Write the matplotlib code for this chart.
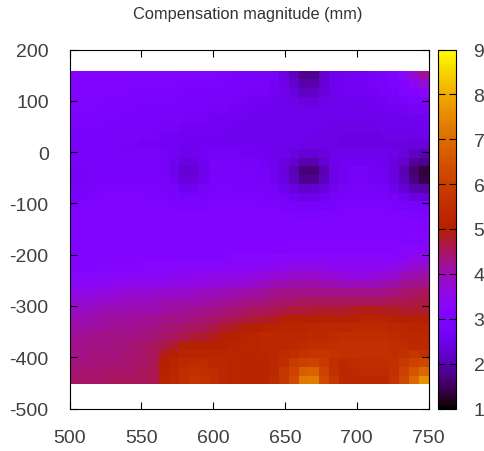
import numpy as np
import matplotlib
matplotlib.use("Agg")
from matplotlib import pyplot as plt
from matplotlib.colors import ListedColormap

plt.rcParams['font.family'] = ['Liberation Sans', 'DejaVu Sans']
plt.rcParams['axes.unicode_minus'] = False

title = "Compensation magnitude (mm)"
x_range = [500, 750]
y_range = [159, -453]
x_ticks = [500, 550, 600, 650, 700, 750]
y_ticks = [200, 100, 0, -100, -200, -300, -400, -500]
bar_ticks = [1, 2, 3, 4, 5, 6, 7, 8, 9]

# magnitude, top row first, 36 columns left to right
mag = [
 [3.1,3.1,3.1,3.05,3.0,3.0,3.0,3.0,3.0,3.0,3.0,2.95,2.95,2.95,2.95,2.9,2.85,2.85,2.8,2.8,2.7,2.4,2.1,1.75,1.75,2.2,2.5,2.6,2.65,2.65,2.7,2.75,2.95,3.3,3.8,4.2],
 [3.05,3.05,3.05,3.0,3.0,2.95,2.95,2.95,2.95,2.95,2.95,2.9,2.9,2.9,2.9,2.85,2.8,2.8,2.75,2.75,2.65,2.45,2.2,1.95,1.95,2.25,2.5,2.6,2.65,2.65,2.7,2.75,2.9,3.1,3.4,3.7],
 [3.0,3.0,3.0,2.95,2.95,2.95,2.9,2.9,2.9,2.9,2.9,2.85,2.85,2.85,2.85,2.8,2.75,2.75,2.7,2.7,2.65,2.5,2.35,2.15,2.15,2.35,2.5,2.6,2.65,2.65,2.65,2.7,2.8,2.95,3.05,3.2],
 [3.0,2.95,2.95,2.95,2.9,2.9,2.9,2.85,2.85,2.85,2.85,2.8,2.8,2.8,2.75,2.75,2.7,2.7,2.65,2.65,2.6,2.55,2.45,2.35,2.35,2.45,2.55,2.6,2.6,2.6,2.6,2.65,2.7,2.8,2.85,2.9],
 [2.95,2.95,2.95,2.9,2.9,2.85,2.85,2.85,2.85,2.8,2.8,2.75,2.75,2.75,2.7,2.7,2.65,2.65,2.6,2.6,2.6,2.55,2.55,2.5,2.5,2.55,2.55,2.55,2.55,2.55,2.55,2.6,2.6,2.65,2.7,2.7],
 [2.9,2.9,2.9,2.85,2.85,2.85,2.8,2.8,2.8,2.75,2.75,2.7,2.7,2.7,2.65,2.65,2.6,2.6,2.6,2.55,2.55,2.55,2.55,2.55,2.55,2.5,2.5,2.5,2.5,2.5,2.5,2.55,2.55,2.55,2.6,2.6],
 [2.85,2.85,2.85,2.85,2.8,2.8,2.8,2.75,2.75,2.7,2.7,2.65,2.65,2.65,2.65,2.6,2.6,2.55,2.55,2.55,2.55,2.55,2.55,2.5,2.5,2.5,2.45,2.45,2.45,2.45,2.45,2.5,2.5,2.5,2.5,2.55],
 [2.85,2.85,2.8,2.8,2.8,2.75,2.75,2.7,2.7,2.65,2.65,2.6,2.6,2.6,2.6,2.6,2.55,2.55,2.55,2.55,2.55,2.5,2.5,2.5,2.45,2.45,2.45,2.4,2.4,2.4,2.4,2.45,2.45,2.45,2.45,2.5],
 [2.8,2.8,2.8,2.75,2.75,2.7,2.7,2.65,2.65,2.65,2.65,2.6,2.6,2.6,2.6,2.6,2.6,2.6,2.6,2.55,2.55,2.5,2.5,2.45,2.45,2.45,2.45,2.4,2.4,2.4,2.4,2.4,2.4,2.4,2.35,2.35],
 [2.8,2.8,2.75,2.75,2.75,2.75,2.75,2.75,2.75,2.7,2.65,2.55,2.55,2.65,2.7,2.7,2.7,2.65,2.65,2.6,2.55,2.5,2.4,2.25,2.25,2.35,2.5,2.5,2.5,2.5,2.5,2.5,2.45,2.35,2.15,2.05],
 [2.75,2.75,2.75,2.8,2.8,2.8,2.8,2.8,2.8,2.7,2.6,2.4,2.4,2.6,2.75,2.75,2.75,2.7,2.7,2.65,2.55,2.4,2.2,1.95,1.95,2.2,2.5,2.6,2.6,2.6,2.6,2.55,2.4,2.2,1.85,1.75],
 [2.7,2.7,2.75,2.85,2.85,2.85,2.85,2.85,2.85,2.7,2.55,2.3,2.3,2.5,2.75,2.8,2.8,2.8,2.75,2.7,2.6,2.35,2.05,1.65,1.65,2.05,2.45,2.65,2.7,2.7,2.65,2.6,2.35,2.05,1.6,1.35],
 [2.7,2.7,2.75,2.85,2.85,2.85,2.85,2.85,2.85,2.75,2.6,2.35,2.35,2.6,2.8,2.85,2.8,2.8,2.8,2.7,2.6,2.4,2.1,1.75,1.75,2.1,2.45,2.65,2.7,2.7,2.65,2.6,2.4,2.1,1.7,1.4],
 [2.8,2.8,2.85,2.9,2.9,2.9,2.9,2.9,2.9,2.85,2.75,2.6,2.6,2.75,2.85,2.9,2.85,2.85,2.85,2.8,2.7,2.55,2.35,2.2,2.2,2.35,2.6,2.7,2.75,2.75,2.75,2.7,2.55,2.3,2.05,1.95],
 [2.85,2.85,2.9,2.95,2.95,2.95,2.95,2.95,2.9,2.9,2.85,2.8,2.8,2.85,2.9,2.9,2.9,2.9,2.9,2.85,2.8,2.7,2.6,2.45,2.45,2.6,2.7,2.8,2.8,2.85,2.85,2.8,2.7,2.6,2.4,2.35],
 [2.95,2.95,2.95,3.0,3.0,3.0,3.0,3.0,2.95,2.95,2.9,2.9,2.9,2.9,2.95,2.95,2.95,2.95,2.95,2.9,2.9,2.85,2.8,2.75,2.75,2.8,2.85,2.9,2.9,2.9,2.9,2.9,2.85,2.8,2.75,2.75],
 [3.0,3.0,3.0,3.05,3.05,3.05,3.05,3.05,3.0,3.0,3.0,3.0,3.0,3.0,3.0,3.0,3.0,3.0,3.0,3.0,2.95,2.95,2.95,2.9,2.9,2.95,2.95,2.95,2.95,2.95,2.95,2.95,2.95,2.95,2.9,2.9],
 [3.05,3.05,3.05,3.05,3.05,3.05,3.05,3.05,3.05,3.05,3.05,3.05,3.05,3.05,3.05,3.05,3.05,3.05,3.05,3.05,3.0,3.0,3.0,3.0,3.0,3.0,3.0,3.0,3.0,3.0,3.0,3.0,3.0,3.0,3.0,3.0],
 [3.05,3.05,3.05,3.05,3.05,3.05,3.05,3.05,3.05,3.05,3.05,3.05,3.05,3.05,3.05,3.05,3.05,3.05,3.05,3.05,3.05,3.05,3.05,3.05,3.05,3.05,3.05,3.05,3.05,3.05,3.05,3.05,3.05,3.05,3.05,3.05],
 [3.05,3.05,3.05,3.05,3.05,3.05,3.05,3.05,3.05,3.05,3.05,3.05,3.05,3.05,3.05,3.05,3.05,3.05,3.05,3.05,3.05,3.05,3.1,3.1,3.1,3.1,3.1,3.1,3.1,3.1,3.1,3.1,3.1,3.1,3.15,3.15],
 [3.05,3.05,3.05,3.05,3.05,3.05,3.05,3.05,3.05,3.05,3.05,3.05,3.1,3.1,3.1,3.1,3.1,3.1,3.1,3.1,3.1,3.1,3.15,3.15,3.15,3.15,3.15,3.15,3.15,3.15,3.15,3.15,3.15,3.2,3.25,3.3],
 [3.05,3.05,3.05,3.05,3.1,3.1,3.1,3.1,3.1,3.1,3.1,3.15,3.15,3.15,3.15,3.15,3.2,3.2,3.2,3.2,3.25,3.25,3.3,3.3,3.3,3.25,3.25,3.25,3.25,3.25,3.25,3.25,3.3,3.35,3.45,3.55],
 [3.1,3.1,3.1,3.1,3.15,3.15,3.15,3.2,3.2,3.2,3.2,3.25,3.25,3.25,3.3,3.3,3.3,3.35,3.35,3.4,3.4,3.45,3.5,3.55,3.55,3.5,3.4,3.4,3.4,3.4,3.4,3.4,3.5,3.6,3.75,3.85],
 [3.2,3.2,3.2,3.25,3.25,3.3,3.3,3.35,3.35,3.35,3.4,3.4,3.45,3.45,3.5,3.5,3.5,3.55,3.6,3.65,3.7,3.75,3.8,3.85,3.85,3.8,3.7,3.65,3.6,3.6,3.65,3.7,3.8,3.95,4.05,4.1],
 [3.35,3.35,3.4,3.4,3.45,3.45,3.5,3.5,3.55,3.55,3.6,3.6,3.65,3.65,3.7,3.7,3.75,3.8,3.85,3.9,4.0,4.05,4.1,4.1,4.1,4.05,4.0,3.95,3.95,3.95,3.95,4.0,4.1,4.2,4.25,4.3],
 [3.55,3.55,3.6,3.6,3.65,3.65,3.7,3.7,3.75,3.75,3.8,3.8,3.85,3.9,3.9,3.95,4.0,4.05,4.1,4.15,4.2,4.25,4.3,4.3,4.3,4.25,4.25,4.25,4.25,4.25,4.25,4.3,4.35,4.4,4.45,4.5],
 [3.75,3.75,3.8,3.85,3.85,3.9,3.9,3.95,3.95,4.0,4.0,4.05,4.05,4.1,4.15,4.15,4.2,4.25,4.3,4.35,4.4,4.45,4.45,4.5,4.5,4.5,4.5,4.5,4.55,4.55,4.55,4.55,4.6,4.6,4.65,4.65],
 [3.9,3.9,3.95,4.0,4.0,4.0,4.05,4.05,4.05,4.1,4.15,4.2,4.2,4.25,4.3,4.35,4.4,4.45,4.5,4.55,4.6,4.65,4.7,4.7,4.75,4.75,4.75,4.8,4.85,4.9,4.9,4.85,4.85,4.8,4.8,4.8],
 [4.0,4.0,4.05,4.1,4.15,4.15,4.15,4.2,4.2,4.25,4.3,4.3,4.35,4.4,4.45,4.5,4.6,4.65,4.7,4.8,4.85,4.95,5.0,5.05,5.05,5.1,5.1,5.1,5.1,5.15,5.15,5.15,5.1,5.05,5.0,4.95],
 [4.1,4.1,4.15,4.15,4.2,4.2,4.2,4.25,4.3,4.35,4.4,4.45,4.5,4.55,4.65,4.75,4.85,4.95,5.05,5.1,5.15,5.2,5.2,5.2,5.25,5.25,5.3,5.3,5.35,5.35,5.35,5.35,5.3,5.25,5.2,5.2],
 [4.2,4.2,4.25,4.25,4.3,4.3,4.3,4.35,4.4,4.45,4.5,4.6,4.7,4.75,4.85,5.0,5.05,5.15,5.2,5.25,5.25,5.25,5.3,5.3,5.35,5.35,5.4,5.45,5.45,5.5,5.5,5.45,5.4,5.35,5.3,5.3],
 [4.25,4.25,4.3,4.3,4.35,4.35,4.4,4.45,4.5,4.65,4.8,5.0,5.05,5.05,5.05,5.1,5.15,5.2,5.2,5.25,5.25,5.3,5.35,5.4,5.45,5.5,5.5,5.6,5.6,5.6,5.6,5.6,5.5,5.45,5.35,5.35],
 [4.3,4.3,4.35,4.35,4.35,4.4,4.4,4.45,4.55,4.85,5.1,5.2,5.2,5.2,5.2,5.2,5.2,5.2,5.2,5.2,5.3,5.4,5.55,5.65,5.7,5.7,5.65,5.6,5.6,5.6,5.6,5.6,5.55,5.6,5.7,5.6],
 [4.35,4.35,4.35,4.4,4.4,4.4,4.45,4.45,4.6,5.0,5.2,5.35,5.4,5.4,5.3,5.25,5.2,5.15,5.15,5.2,5.35,5.55,5.9,6.05,6.1,5.85,5.5,5.35,5.4,5.5,5.5,5.5,5.6,5.85,6.1,6.2],
 [4.4,4.4,4.4,4.45,4.45,4.45,4.45,4.5,4.6,5.1,5.3,5.5,5.6,5.55,5.4,5.3,5.2,5.15,5.15,5.2,5.35,5.7,6.1,6.7,6.75,6.1,5.6,5.3,5.35,5.4,5.4,5.4,5.6,6.0,6.5,6.9],
 [4.45,4.45,4.45,4.45,4.5,4.5,4.5,4.55,4.6,5.15,5.35,5.55,5.7,5.65,5.45,5.3,5.2,5.15,5.15,5.2,5.4,5.8,6.3,7.2,7.25,6.3,5.75,5.35,5.35,5.35,5.35,5.35,5.65,6.2,6.9,7.6],
]

# gnuplot's default pm3d palette (rgbformulae 7,5,15)
t = np.linspace(0, 1, 128)
palette = ListedColormap(np.column_stack([np.sqrt(t), t ** 3, np.clip(np.sin(2 * np.pi * t), 0, 1)]))

fig = plt.figure(figsize=(4.84, 4.52), dpi=100)
ax = fig.add_axes([69.5 / 484, 1 - 409.5 / 452, 359 / 484, 359 / 452])
cax = fig.add_axes([437.5 / 484, 1 - 409.5 / 452, 18 / 484, 359 / 452])

x_edges = np.linspace(x_range[0], x_range[1], len(mag[0]) + 1)
y_edges = np.linspace(y_range[0], y_range[1], len(mag) + 1)
mesh = ax.pcolormesh(x_edges, y_edges, np.array(mag), cmap=palette, vmin=1, vmax=9, rasterized=True)

ax.set_xlim(500, 750)
ax.set_ylim(-500, 200)
ax.set_xticks(x_ticks)
ax.set_yticks(y_ticks)
ax.tick_params(axis='both', direction='in', length=5, width=0.8, top=True, right=True,
               labelsize=14, labelcolor='#404040')
ax.tick_params(axis='y', pad=15)
ax.tick_params(axis='x', pad=15)
ax.set_title(title, fontsize=11.8, color='#333333', pad=23, x=0.495)

cb = fig.colorbar(mesh, cax=cax)
cb.set_ticks(bar_ticks)
cax.tick_params(axis='y', direction='in', length=5, width=0.8, left=True, right=True,
                labelsize=14, labelcolor='#404040', pad=13)

fig.savefig("out.png", dpi=100)
